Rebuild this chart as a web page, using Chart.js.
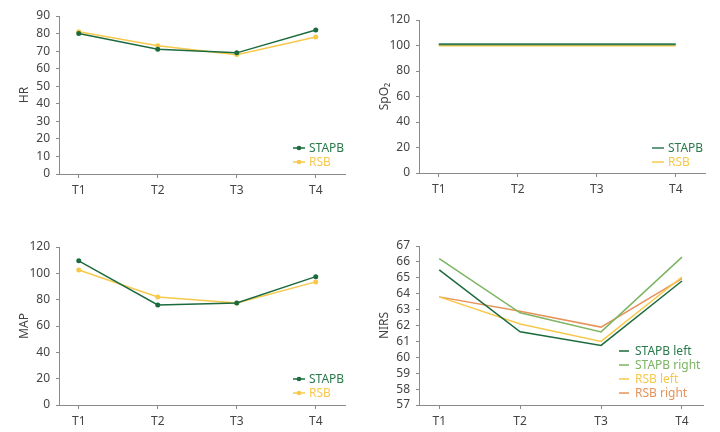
<!DOCTYPE html>
<html>
<head>
<meta charset="utf-8">
<script src="https://cdn.jsdelivr.net/npm/chart.js@4"></script>
<style>
  html, body { margin: 0; padding: 0; background: #fff; }
  #wrap { position: relative; width: 720px; height: 432px; }
  canvas { position: absolute; }
</style>
</head>
<body>
<div id="wrap">
  <canvas id="hr" width="360" height="216" style="left:0;top:0"></canvas>
  <canvas id="spo2" width="360" height="216" style="left:360px;top:0"></canvas>
  <canvas id="map" width="360" height="216" style="left:0;top:216px"></canvas>
  <canvas id="nirs" width="360" height="216" style="left:360px;top:216px"></canvas>
</div>
<script>
const timepoints = ['T1', 'T2', 'T3', 'T4']

const hrStapb = [80, 71, 69, 82]
const hrRsb = [81, 73, 68, 78]

const spo2Stapb = [101, 101, 101, 101]
const spo2Rsb = [100, 100, 100, 100]

const mapStapb = [109.5, 76, 77.5, 97.5]
const mapRsb = [102.5, 82, 77.5, 93.5]

const nirsStapbLeft = [65.5, 61.6, 60.75, 64.8]
const nirsStapbRight = [66.2, 62.8, 61.6, 66.3]
const nirsRsbLeft = [63.8, 62.1, 61.0, 65.05]
const nirsRsbRight = [63.8, 62.9, 61.9, 64.95]

const DARK_GREEN = '#1c6b3e'
const LIGHT_GREEN = '#7db563'
const YELLOW = '#f7c84a'
const ORANGE = '#e6935a'
const AXIS = '#8a8a8a'
const TEXT = '#444444'
const FONT = "'Noto Sans', 'Open Sans', sans-serif"

const toPoints = (arr) => arr.map((y, i) => ({x: i + 1, y}))

// legend drawn inside the plot, lower right
const insideLegend = {
  id: 'insideLegend',
  afterDraw(chart, args, opts) {
    const {ctx} = chart
    ctx.save()
    ctx.font = `12px ${FONT}`
    ctx.textBaseline = 'middle'
    chart.data.datasets.forEach((ds, i) => {
      const y = opts.rows[i]
      ctx.strokeStyle = ds.borderColor
      ctx.lineWidth = 1.5
      ctx.beginPath()
      ctx.moveTo(opts.x, y)
      ctx.lineTo(opts.x + opts.len, y)
      ctx.stroke()
      if (opts.dots) {
        ctx.fillStyle = ds.borderColor
        ctx.beginPath()
        ctx.arc(opts.x + opts.len / 2, y, 2.3, 0, Math.PI * 2)
        ctx.fill()
      }
      ctx.fillStyle = ds.textColor || ds.borderColor
      ctx.fillText(ds.label, opts.textX, y + 0.5)
    })
    ctx.restore()
  },
}

function makeChart(id, cfg) {
  const ctx = document.getElementById(id).getContext('2d')
  return new Chart(ctx, {
    type: 'line',
    data: {
      datasets: cfg.series.map((s) => ({
        label: s.label,
        data: toPoints(s.data),
        borderColor: s.color,
        backgroundColor: s.color,
        textColor: s.textColor,
        borderWidth: cfg.lineWidth || 1.5,
        pointRadius: cfg.dots ? 2.5 : 0,
        pointBorderWidth: 0,
        tension: 0,
      })),
    },
    options: {
      responsive: false,
      animation: false,
      events: [],
      layout: {padding: {left: 0, top: cfg.top, right: 360 - cfg.right, bottom: 0}},
      plugins: {
        legend: {display: false},
        tooltip: {enabled: false},
        insideLegend: cfg.legend,
      },
      scales: {
        x: {
          type: 'linear',
          min: 0.75,
          max: cfg.xMax,
          afterBuildTicks: (axis) => { axis.ticks = timepoints.map((t, i) => ({value: i + 1})) },
          afterFit: (axis) => { axis.height = 216 - cfg.bottom },
          border: {color: AXIS, width: 1},
          grid: {drawOnChartArea: false, color: AXIS, tickLength: 4},
          ticks: {
            padding: 5,
            color: TEXT,
            font: {family: FONT, size: 12},
            callback: (v) => timepoints[v - 1] || '',
          },
        },
        y: {
          min: cfg.yMin,
          max: cfg.yMax,
          afterFit: (axis) => { axis.width = 59 },
          border: {color: AXIS, width: 1},
          grid: {drawOnChartArea: false, color: AXIS, tickLength: 3},
          ticks: {
            stepSize: cfg.step,
            autoSkip: false,
            padding: 6,
            color: TEXT,
            font: {family: FONT, size: 12},
          },
          title: {
            display: true,
            text: cfg.title,
            color: TEXT,
            font: {family: FONT, size: 12},
            padding: {top: 17, bottom: 0},
          },
        },
      },
    },
    plugins: [insideLegend],
  })
}

makeChart('hr', {
  title: 'HR', yMin: 0, yMax: 90, step: 10, top: 16, bottom: 174, right: 345, xMax: 4.37, dots: true,
  series: [
    {label: 'STAPB', data: hrStapb, color: DARK_GREEN, textColor: '#2a7a4c'},
    {label: 'RSB', data: hrRsb, color: YELLOW},
  ],
  legend: {x: 293, len: 12, textX: 309, rows: [148, 162], dots: true},
})

makeChart('spo2', {
  title: 'SpO₂', yMin: 0, yMax: 120, step: 20, top: 20, bottom: 173, right: 345, xMax: 4.37, dots: false, lineWidth: 2,
  series: [
    {label: 'STAPB', data: spo2Stapb, color: '#2f7a55', textColor: '#2a7a4c'},
    {label: 'RSB', data: spo2Rsb, color: YELLOW},
  ],
  legend: {x: 292, len: 12, textX: 308, rows: [148, 162], dots: false},
})

makeChart('map', {
  title: 'MAP', yMin: 0, yMax: 120, step: 20, top: 31, bottom: 189, right: 345, xMax: 4.37, dots: true,
  series: [
    {label: 'STAPB', data: mapStapb, color: DARK_GREEN, textColor: '#2a7a4c'},
    {label: 'RSB', data: mapRsb, color: YELLOW},
  ],
  legend: {x: 293, len: 12, textX: 309, rows: [163, 177], dots: true},
})

makeChart('nirs', {
  title: 'NIRS', yMin: 57, yMax: 67, step: 1, top: 30, bottom: 189, right: 343, xMax: 4.26, dots: false,
  series: [
    {label: 'STAPB left', data: nirsStapbLeft, color: DARK_GREEN, textColor: '#2a7a4c'},
    {label: 'STAPB right', data: nirsStapbRight, color: LIGHT_GREEN},
    {label: 'RSB left', data: nirsRsbLeft, color: YELLOW},
    {label: 'RSB right', data: nirsRsbRight, color: ORANGE},
  ],
  legend: {x: 259, len: 10, textX: 275, rows: [135, 149, 163, 177], dots: false},
})
</script>
</body>
</html>
